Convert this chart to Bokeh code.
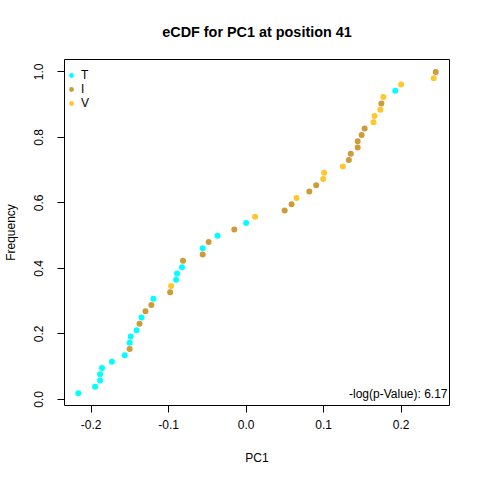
from bokeh.plotting import figure
from bokeh.models import Range1d, FixedTicker, PrintfTickFormatter, Legend, LegendItem, Label, ColumnDataSource
from bokeh.embed import file_html
from bokeh.resources import INLINE

# ---- data ----
pc1 = [-0.2166, -0.1949, -0.1885, -0.1885, -0.1860, -0.1732, -0.1567, -0.1503, -0.1503, -0.1490,
       -0.1414, -0.1376, -0.1350, -0.1299, -0.1223, -0.1197, -0.0981, -0.0968, -0.0904, -0.0892,
       -0.0828, -0.0815, -0.0561, -0.0561, -0.0484, -0.0369, -0.0153, 0.0000, 0.0115, 0.0497,
       0.0586, 0.0650, 0.0815, 0.0904, 0.0994, 0.1006, 0.1248, 0.1325, 0.1350, 0.1439,
       0.1439, 0.1490, 0.1529, 0.1643, 0.1656, 0.1732, 0.1745, 0.1771, 0.1924, 0.2000,
       0.2420, 0.2446]
freq = [0.0192, 0.0385, 0.0577, 0.0769, 0.0962, 0.1154, 0.1346, 0.1538, 0.1731, 0.1923,
        0.2115, 0.2308, 0.2500, 0.2692, 0.2885, 0.3077, 0.3269, 0.3462, 0.3654, 0.3846,
        0.4038, 0.4231, 0.4423, 0.4615, 0.4808, 0.5000, 0.5192, 0.5385, 0.5577, 0.5769,
        0.5962, 0.6154, 0.6346, 0.6538, 0.6731, 0.6923, 0.7115, 0.7308, 0.7500, 0.7692,
        0.7885, 0.8077, 0.8269, 0.8462, 0.8654, 0.8846, 0.9038, 0.9231, 0.9423, 0.9615,
        0.9808, 1.0000]
residue = ["T", "T", "T", "T", "T", "T", "T", "I", "T", "T",
           "T", "I", "T", "I", "I", "T", "I", "V", "T", "T",
           "T", "I", "I", "T", "I", "T", "I", "T", "V", "I",
           "I", "V", "I", "I", "V", "V", "V", "I", "I", "I",
           "I", "I", "I", "V", "V", "V", "I", "V", "T", "V",
           "V", "I"]
groups = ["T", "I", "V"]
group_colors = {"T": "#00FFFF", "I": "#CD9B38", "V": "#FFC72C"}
x_ticks = [-0.2, -0.1, 0.0, 0.1, 0.2]
y_ticks = [0.0, 0.2, 0.4, 0.6, 0.8, 1.0]
title_text = "eCDF for PC1 at position 41"
pvalue_text = "-log(p-Value): 6.17"

FONT = "Liberation Sans"

p = figure(width=472, height=472, output_backend="svg", toolbar_location=None,
           x_range=Range1d(-0.2344, 0.2624), y_range=Range1d(-0.0185, 1.0379),
           min_border_left=59, min_border_right=23, min_border_top=59, min_border_bottom=67,
           title=title_text)
p.background_fill_color = "white"
p.border_fill_color = "white"
p.outline_line_color = "black"
p.outline_line_width = 1
p.xgrid.visible = False
p.ygrid.visible = False

p.title.text_font = FONT
p.title.text_font_size = "14.4px"
p.title.text_font_style = "bold"
p.title.align = "center"
p.title.vertical_align = "middle"
p.title.text_color = "black"
p.title.standoff = 38
p.title.offset = -4

for ax, ticks in ((p.xaxis[0], x_ticks), (p.yaxis[0], y_ticks)):
    ax.ticker = FixedTicker(ticks=ticks)
    ax.formatter = PrintfTickFormatter(format="%.1f")
    ax.axis_line_color = None
    ax.major_tick_line_color = "black"
    ax.major_tick_out = 7
    ax.major_tick_in = 0
    ax.minor_tick_line_color = None
    ax.major_label_text_font = FONT
    ax.major_label_text_font_size = "12px"
    ax.major_label_text_color = "black"
    ax.axis_label_text_font = FONT
    ax.axis_label_text_font_size = "12px"
    ax.axis_label_text_font_style = "normal"
    ax.axis_label_text_color = "black"

p.xaxis.major_label_standoff = 7
p.xaxis.axis_label_standoff = 19
p.yaxis.major_label_standoff = 14
p.yaxis.axis_label_standoff = 14

p.xaxis.axis_label = "PC1"
p.yaxis.axis_label = "Frequency"
p.yaxis.major_label_orientation = "vertical"

items = []
for g in groups:
    idx = [i for i, r in enumerate(residue) if r == g]
    src = ColumnDataSource(dict(x=[pc1[i] for i in idx], y=[freq[i] for i in idx]))
    r = p.scatter("x", "y", source=src, size=6, fill_color=group_colors[g], line_color=None)
    items.append(LegendItem(label=g, renderers=[r]))

legend = Legend(items=items, location=(0, 295), margin=0, padding=3,
                glyph_width=14, glyph_height=12, label_standoff=3, spacing=0,
                label_height=14, label_text_font=FONT, label_text_font_size="12px",
                label_text_color="black", background_fill_alpha=0, border_line_color=None)
p.add_layout(legend)

p.add_layout(Label(x=383, y=12, x_units="screen", y_units="screen", text=pvalue_text,
                   text_align="right", text_baseline="middle", text_font=FONT,
                   text_font_size="12px", text_color="black"))

open("out.html", "w").write(file_html(p, INLINE))
